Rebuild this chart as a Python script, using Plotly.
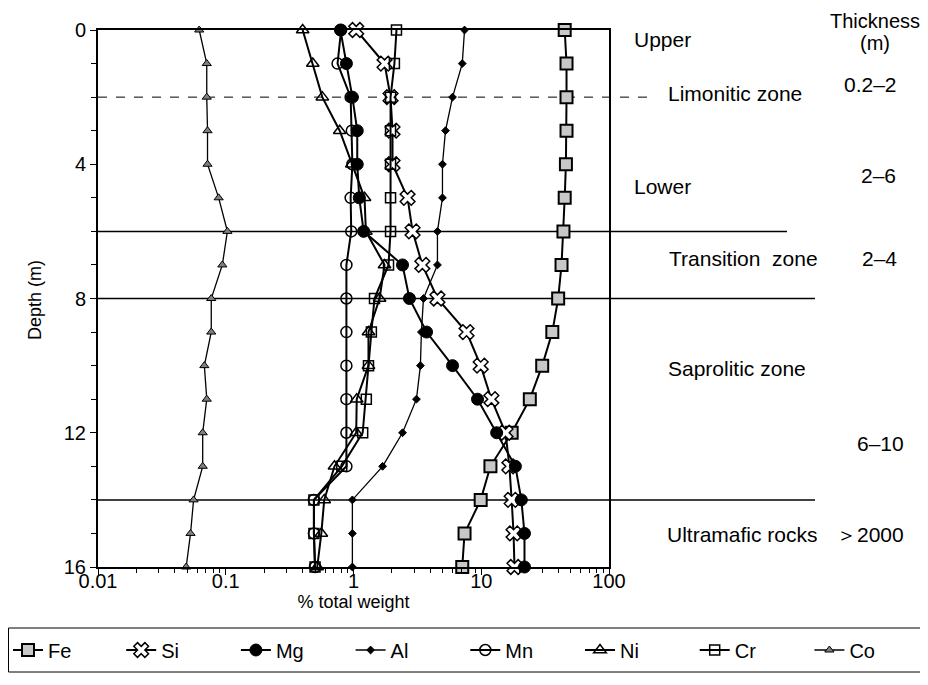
import plotly.graph_objects as go

# -- Datos: perfil de meteorizacion, % en peso por profundidad ----------------
DEPTH = list(range(17))  # m

FE = [45, 46.5, 46.5, 46.5, 46, 45, 44, 42.5, 40, 36, 30, 24, 17.3, 11.8, 9.9, 7.4, 7.1]
SI = [1.05, 1.75, 1.95, 2.02, 2.02, 2.65, 2.9, 3.46, 4.54, 7.67, 9.9, 12.0, 15.5, 16.6, 17.3, 17.9, 18.2]
MG = [0.79, 0.88, 0.98, 1.07, 1.07, 1.11, 1.2, 2.42, 2.74, 3.73, 5.96, 9.35, 13.2, 18.5, 20.6, 21.8, 21.8]
AL = [7.4, 7.1, 5.96, 5.25, 4.97, 4.97, 4.54, 4.54, 3.53, 3.4, 3.34, 3.11, 2.42, 1.69, 0.98, 0.98, 0.98]
MN = [0.8, 0.75, 0.95, 0.97, 0.98, 0.95, 0.96, 0.88, 0.88, 0.88, 0.88, 0.88, 0.88, 0.88, 0.49, 0.49, 0.5]
NI = [0.4, 0.48, 0.57, 0.78, 0.97, 1.22, 1.25, 1.75, 1.6, 1.31, 1.31, 1.06, 1.05, 0.71, 0.59, 0.56, 0.52]
CR = [2.17, 2.09, 1.95, 1.95, 1.95, 1.95, 1.95, 1.88, 1.46, 1.38, 1.31, 1.26, 1.18, 0.81, 0.49, 0.49, 0.5]
CO = [0.062, 0.071, 0.071, 0.072, 0.072, 0.088, 0.103, 0.094, 0.077, 0.077, 0.068, 0.071, 0.066, 0.066, 0.056, 0.053, 0.049]

X_TICKS = [0.01, 0.1, 1, 10, 100]
X_LABELS = ["0.01", "0.1", "1", "10", "100"]
Y_TICKS = [0, 4, 8, 12, 16]

# Limites de zonas (m) y etiquetas
ZONE_LIMITS = [2, 6, 8, 14]
ZONES = ["Upper", "Limonitic zone", "Lower", "Transition  zone", "Saprolitic zone", "Ultramafic rocks"]
THICKNESS = ["0.2–2", "2–6", "2–4", "6–10", "＞2000"]

FONT = "Liberation Sans"
OFF = 8                      # margen por defecto del <body> del navegador
W, H = 928 - OFF, 685 - OFF
L, R, T, B = 98 - OFF, 609 - OFF, 30 - OFF, 567 - OFF  # area del grafico


def px(x):
    """px de la referencia -> coordenada paper en x"""
    return (x - OFF - L) / (R - L)


def py(y):
    return (B - (y - OFF)) / (B - T)


SERIES = [
    dict(name="Fe", v=FE, sym="square", size=12, fill="#c8c8c8", mlw=2, lw=2),
    dict(name="Si", v=SI, sym="x", size=13, fill="white", mlw=1.5, lw=2),
    dict(name="Mg", v=MG, sym="circle", size=12, fill="black", mlw=1, lw=2),
    dict(name="Al", v=AL, sym="diamond", size=6, fill="black", mlw=1, lw=1.3),
    dict(name="Mn", v=MN, sym="circle-open", size=11, fill="black", mlw=1.5, lw=2),
    dict(name="Ni", v=NI, sym="triangle-up-open", size=11, fill="black", mlw=1.5, lw=2),
    dict(name="Cr", v=CR, sym="square-open", size=10, fill="black", mlw=1.5, lw=2),
    dict(name="Co", v=CO, sym="triangle-up", size=8, fill="#808080", mlw=1, lw=1.3),
]

fig = go.Figure()
legends = {}
for i, s in enumerate(SERIES):
    key = "legend" if i == 0 else f"legend{i + 1}"
    fig.add_trace(go.Scatter(
        x=s["v"], y=DEPTH, name=s["name"], mode="lines+markers",
        line=dict(color="black", width=s["lw"]),
        marker=dict(symbol=s["sym"], size=s["size"], color=s["fill"],
                    line=dict(color="black", width=s["mlw"])),
        cliponaxis=False, legend=key, showlegend=True,
    ))
    # una leyenda por serie para que quepan las 8 en una sola fila
    sym_x = 12 + 114.7 * i
    legends[key] = dict(xref="container", yref="container",
                        x=max(0.0, (sym_x - 5.5 - OFF) / W), y=1 - (650 - OFF) / H,
                        xanchor="left", yanchor="middle",
                        bgcolor="rgba(0,0,0,0)", borderwidth=0,
                        font=dict(size=20, family=FONT, color="black"))

# Marco de la leyenda
fig.add_shape(type="rect", xref="paper", yref="paper",
              x0=(0.5 - L) / (R - L), x1=px(922), y0=py(628), y1=py(672),
              line=dict(color="black", width=1), layer="above")

# Lineas de limite entre zonas
ends = {2: 653, 6: 787, 8: 815, 14: 815}
for d in ZONE_LIMITS:
    fig.add_shape(type="line", xref="paper", yref="y", x0=0, x1=px(ends[d]),
                  y0=d, y1=d, layer="below",
                  line=dict(color="black", width=1.5 if d != 2 else 1,
                            dash="dash" if d == 2 else "solid"))

zone_pos = [(632, 40), (666, 93), (632, 186), (667, 258), (666, 368), (665, 534)]
for txt, (x, y) in zip(ZONES, zone_pos):
    fig.add_annotation(x=px(x), y=py(y), xref="paper", yref="paper", text=txt,
                       showarrow=False, xanchor="left", yanchor="middle",
                       font=dict(size=21, color="black", family=FONT))

thick_pos = [(870, 84), (878, 175), (879, 258), (880, 443), (870, 534)]
for txt, (x, y) in zip(THICKNESS, thick_pos):
    fig.add_annotation(x=px(x), y=py(y), xref="paper", yref="paper", text=txt,
                       showarrow=False, xanchor="center", yanchor="middle",
                       font=dict(size=21, color="black", family=FONT))
for txt, y in [("Thickness", 21), ("(m)", 43)]:
    fig.add_annotation(x=px(875), y=py(y), xref="paper", yref="paper",
                       text=txt, showarrow=False,
                       xanchor="center", yanchor="middle",
                       font=dict(size=20, color="black", family=FONT))

# Titulo del eje Y como anotacion (posicion fija)
fig.add_annotation(x=px(35), y=py(300), xref="paper", yref="paper",
                   text="Depth (m)", textangle=-90, showarrow=False,
                   xanchor="center", yanchor="middle",
                   font=dict(size=18, color="black", family=FONT))

axis_common = dict(showline=True, mirror=True, linecolor="black", linewidth=2,
                   showgrid=False, zeroline=False, ticks="outside",
                   tickcolor="black", tickfont=dict(size=20, color="black", family=FONT))

fig.update_layout(
    width=W, height=H, showlegend=True,
    margin=dict(l=L, r=W - R, t=T, b=H - B, autoexpand=False),
    plot_bgcolor="white", paper_bgcolor="white",
    font=dict(family=FONT, color="black", size=20),
    xaxis=dict(type="log", range=[-2, 2], tickvals=X_TICKS, ticktext=X_LABELS,
               ticklen=6, ticklabelstandoff=-11,
               minor=dict(ticks="outside", ticklen=4, dtick="D1",
                          tickcolor="black", showgrid=False),
               title=dict(text="% total weight", font=dict(size=18), standoff=4),
               **axis_common),
    yaxis=dict(range=[16, 0], tickvals=Y_TICKS, ticklen=6,
               minor=dict(ticks="outside", ticklen=5, dtick=1, tickcolor="black",
                          showgrid=False),
               **axis_common),
    **legends,
)

fig.write_html("out.html")
